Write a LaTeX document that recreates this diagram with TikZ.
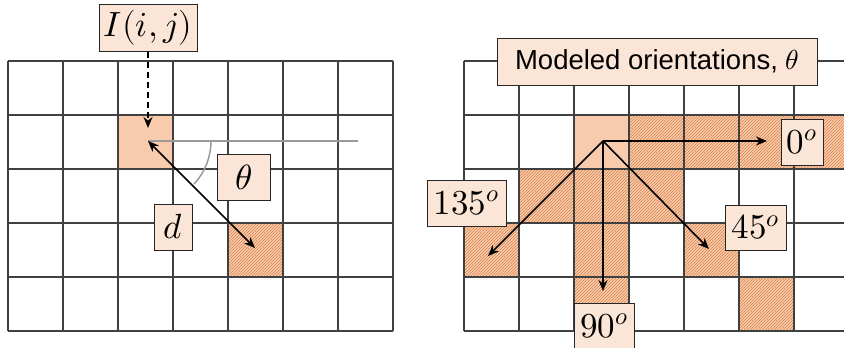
\documentclass[tikz,border=0pt]{standalone}
\usepackage{fontspec}
\usepackage{unicode-math}
\setmathfont{Latin Modern Math}
\setsansfont{Liberation Sans}
\usetikzlibrary{patterns,arrows.meta}
\definecolor{peach}{HTML}{F8CBAD}
\definecolor{lbox}{HTML}{FBE5D6}
\definecolor{hatchc}{HTML}{D9834A}
\definecolor{gridc}{HTML}{404040}
\definecolor{refl}{HTML}{9A9A9A}
\tikzset{
  lbl/.style={draw=black!85, line width=1pt, fill=lbox, inner sep=0pt, font=\fontsize{35}{38}\selectfont},
  gridl/.style={draw=gridc, line width=1.1pt},
  arr/.style={-{Stealth[length=11pt,width=9pt]}, line width=1.6pt},
  darr/.style={{Stealth[length=11pt,width=9pt]}-{Stealth[length=11pt,width=9pt]}, line width=1.6pt},
  solidcell/.style={fill=peach},
  hatchcell/.style={fill=peach},
  hatchlines/.style={pattern=north east lines, pattern color=hatchc},
}
\begin{document}
\begin{tikzpicture}[x=1pt,y=-1pt]
\useasboundingbox[fill=white] (0,0) rectangle (844,348);
% ---------- left grid ----------
\fill[solidcell] (119,115) rectangle (174,169);
\fill[hatchcell] (229,223) rectangle (284,277);
\fill[hatchlines] (229,223) rectangle (284,277);
\foreach \i in {0,...,7} \draw[gridl] ({8+55*\i},61) -- ({8+55*\i},331);
\foreach \j in {0,...,5} \draw[gridl] (8,{61+54*\j}) -- (393,{61+54*\j});
% ---------- right grid ----------
\fill[solidcell] (574,115) rectangle (629,169);
\foreach \c/\r in {3/1,4/1,5/1,1/2,2/2,3/2,0/3,2/3,4/3,2/4,5/4}{
  \fill[hatchcell] ({464+55*\c},{61+54*\r}) rectangle ++(55,54);
  \fill[hatchlines] ({464+55*\c},{61+54*\r}) rectangle ++(55,54);
}
\fill[hatchcell] (794,115) rectangle (844,169);
\fill[hatchlines] (794,115) rectangle (844,169);
\foreach \i in {0,...,6} \draw[gridl] ({464+55*\i},61) -- ({464+55*\i},331);
\foreach \j in {0,...,5} \draw[gridl] (464,{61+54*\j}) -- (844,{61+54*\j});
% ---------- left annotations ----------
\coordinate (O1) at (148,141);
\coordinate (R1) at (358,141);
\coordinate (C1) at (148,128);
\coordinate (P1) at (255,248);
\draw[refl, line width=1.5pt] (O1) -- (R1);
\draw[refl, line width=1.5pt] (O1) ++(63,0) arc[start angle=0, end angle=43, radius=63];
\draw[darr] (O1) -- (P1);
\node[lbl, minimum width=98pt, minimum height=47pt] (I) at (148,27.5) {$I(i,j)$};
\draw[arr, dash pattern=on 6pt off 4pt] (I.south) -- (C1);
\node[lbl, minimum width=53pt, minimum height=46pt] (th) at (243.5,177) {$\theta$};
\node[lbl, minimum width=38pt, minimum height=46pt] (d) at (173,227) {$d$};
% ---------- right annotations ----------
\coordinate (O2) at (603,141);
\coordinate (E0) at (767,141);
\coordinate (E90) at (603,291);
\coordinate (E45) at (709,249);
\coordinate (E135) at (488,256);
\draw[arr] (O2) -- (E0);
\draw[arr] (O2) -- (E90);
\draw[arr] (O2) -- (E45);
\draw[arr] (O2) -- (E135);
\node[lbl, minimum width=320pt, minimum height=47pt, font=\fontsize{27.5}{30}\selectfont\sffamily] (mo) at (657,61.5) {Modeled orientations, $\theta$};
\node[lbl, minimum width=42pt, minimum height=46pt] (l0) at (802,142) {$0^o$};
\node[lbl, minimum width=79pt, minimum height=46pt] (l135) at (466.5,203) {$135^o$};
\node[lbl, minimum width=61pt, minimum height=45pt] (l45) at (755.5,227.5) {$45^o$};
\node[lbl, minimum width=60pt, minimum height=46pt] (l90) at (604,326) {$90^o$};
\end{tikzpicture}
\end{document}
